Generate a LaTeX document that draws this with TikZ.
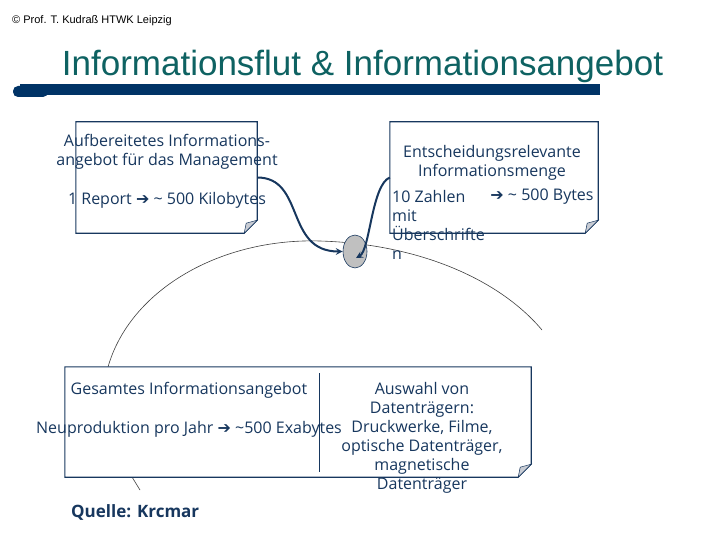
\documentclass[tikz,border=0pt]{standalone}
\usepackage{fontspec}
\setmainfont{Open Sans}
\newfontfamily\titlefont{Liberation Sans}
\newfontfamily\arrowfont{DejaVu Sans}
\usepackage{tikz}
\usetikzlibrary{shapes,calc}
\definecolor{titlecol}{RGB}{14,98,98}
\definecolor{barcol}{RGB}{0,51,102}
\definecolor{notecol}{RGB}{23,55,94}
\definecolor{foldcol}{RGB}{200,204,212}
\definecolor{ptgrey}{RGB}{192,192,192}
\newcommand{\pfeil}{{\arrowfont\bfseries\symbol{"2794}}}
\newcommand{\dogear}[1]{%
\filldraw[draw=notecol,fill=white,line width=1.1pt] (#1.north west) -- (#1.north east) -- ([yshift=13pt]#1.south east) -- ([xshift=-13pt]#1.south east) -- (#1.south west) -- cycle;
\filldraw[draw=notecol,fill=foldcol,line width=0.5pt] ([yshift=13pt]#1.south east) -- ([xshift=-13pt]#1.south east) -- ([xshift=-11pt,yshift=10pt]#1.south east) -- cycle;}

\begin{document}
\begin{tikzpicture}[x=1pt,y=-1pt,every node/.style={inner sep=0pt},
  txt/.style={text=notecol,font=\fontsize{16}{19}\selectfont,align=center},
  conn/.style={notecol,line width=2pt,->,>=stealth},
  arcline/.style={black!75,line width=0.6pt}]
\useasboundingbox (0,0) rectangle (720,540);
\node[anchor=base west,font=\titlefont\fontsize{11}{13}\selectfont] (hdr) at (12,24) {© Prof. T. Kudraß HTWK Leipzig};
\node[anchor=base,font=\titlefont\fontsize{35}{40}\selectfont,text=titlecol] (ttl) at (362.5,76) {Informationsflut \& Informationsangebot};
\fill[barcol] (20,84) rectangle (600,95);
\fill[barcol,rounded corners=5pt] (13,86) rectangle (48,97);
\draw[arcline] (108,367) .. controls (130,290) and (220,238) .. (320,241) .. controls (420,244) and (500,280) .. (542,330);
\draw[arcline] (132,477) -- (140,490);
\node[minimum width=181pt,minimum height=111pt] (rep) at (166.5,177.5) {};
\node[minimum width=208pt,minimum height=111pt] (entsch) at (494,177.5) {};
\node[minimum width=466pt,minimum height=110pt] (tot) at (298,422) {};
\dogear{rep}
\dogear{entsch}
\dogear{tot}
\draw[notecol,line width=1pt] (319,373) -- (319,472);
\node[ellipse,draw=notecol,fill=ptgrey,line width=0.6pt,minimum width=24pt,minimum height=33pt] (pt) at (355,251.5) {};
\coordinate (ptin) at (356,258);
\node[txt] (repl) at (167,171.5) {Aufbereitetes Informations-\\angebot für das Management\\[20pt]1 Report \pfeil{} \textasciitilde{} 500 Kilobytes};
\node[txt] (entl) at (492,162.5) {Entscheidungsrelevante\\Informationsmenge};
\node[txt,align=left,anchor=west] (zahl) at (392,225) {10 Zahlen\\mit\\Überschrifte\\n};
\node[txt] (byte) at (542,197) {\pfeil{} \textasciitilde{} 500 Bytes};
\node[txt] (totl) at (189,409.5) {Gesamtes Informationsangebot\\[20pt]Neuproduktion pro Jahr \pfeil{} \textasciitilde500 Exabytes};
\node[txt] (totr) at (422,438) {Auswahl von\\Datenträgern:\\Druckwerke, Filme,\\optische Datenträger,\\magnetische\\Datenträger};
\node[anchor=west,text=notecol,font=\bfseries\fontsize{17}{20}\selectfont] (src) at (71,512) {Quelle: Krcmar};
\draw[conn] (rep.east) .. controls +(48,0) and +(-58,0) .. (pt.west);
\draw[conn] (entsch.west) .. controls +(-18,7) and +(14,-8) .. (ptin);
\end{tikzpicture}
\end{document}
